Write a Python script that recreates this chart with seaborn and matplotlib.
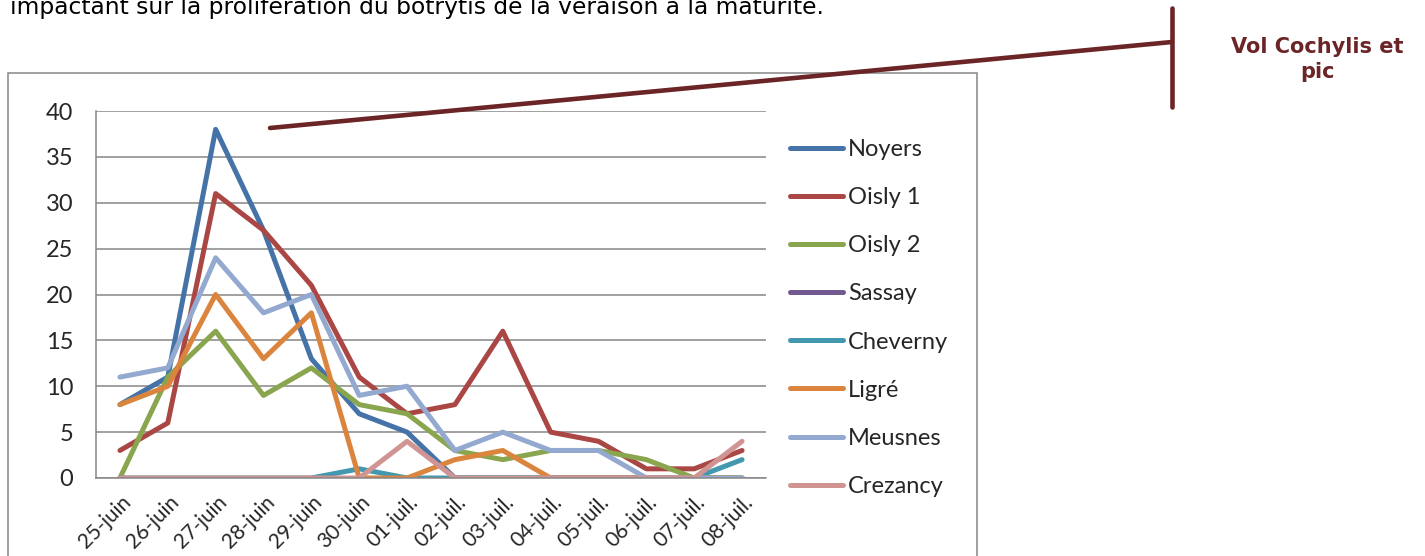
import numpy as np
import pandas as pd
import matplotlib
matplotlib.use("Agg")
import matplotlib.pyplot as plt
import matplotlib.transforms as mtransforms
import seaborn as sns
from matplotlib.lines import Line2D
from matplotlib.patches import Rectangle

# Data
dates = ['25-juin', '26-juin', '27-juin', '28-juin', '29-juin', '30-juin', '01-juil.',
         '02-juil.', '03-juil.', '04-juil.', '05-juil.', '06-juil.', '07-juil.', '08-juil.']
sites = ['Noyers', 'Oisly 1', 'Oisly 2', 'Sassay', 'Cheverny', 'Ligré', 'Meusnes', 'Crezancy']

noyers = [8, 11, 38, 27, 13, 7, 5, 0, 0, 0, 0, 0, 0, 0]
oisly1 = [3, 6, 31, 27, 21, 11, 7, 8, 16, 5, 4, 1, 1, 3]
oisly2 = [0, 11, 16, 9, 12, 8, 7, 3, 2, 3, 3, 2, 0, 0]
sassay = [0, 0, 0, 0, 0, 0, 0, 0, 0, 0, 0, 0, 0, 0]
cheverny = [0, 0, 0, 0, 0, 1, 0, 0, 0, 0, 0, 0, 0, 2]
ligre = [8, 10, 20, 13, 18, 0, 0, 2, 3, 0, 0, 0, 0, 0]
meusnes = [11, 12, 24, 18, 20, 9, 10, 3, 5, 3, 3, 0, 0, 0]
crezancy = [0, 0, 0, 0, 0, 0, 4, 0, 0, 0, 0, 0, 0, 4]

colors = ['#4572A7', '#AA4643', '#89A54E', '#71588F', '#4198AF', '#DB843D', '#93A9CF', '#D09493']

series = [noyers, oisly1, oisly2, sassay, cheverny, ligre, meusnes, crezancy]
rows = []
for name, vals in zip(sites, series):
    for i, v in enumerate(vals):
        rows.append({'pos': i, 'date': dates[i], 'site': name, 'val': v})
df = pd.DataFrame(rows)

sns.set_style("white")
plt.rcParams['font.family'] = ['Lato', 'DejaVu Sans']

W, H = 1425, 556
fs = 17
fig = plt.figure(figsize=(W / 100, H / 100), dpi=100)
ax = fig.add_axes([96 / W, 1 - 478 / H, 670 / W, 367 / H])

grid_c = '#868686'
sns.lineplot(data=df, x='pos', y='val', hue='site', hue_order=sites,
             palette=colors, linewidth=3.6, sort=False, ax=ax)

ax.set_xlim(-0.5, len(dates) - 0.5)
ax.set_ylim(0, 40)
ax.set_yticks(np.arange(0, 41, 5))
ax.yaxis.grid(True, color=grid_c, linewidth=1.1)
ax.set_axisbelow(True)
ax.set_xticks(np.arange(len(dates)))
ax.set_xticklabels(dates, rotation=45, ha='right', va='center', rotation_mode='anchor')
ax.set_xticks(np.arange(-0.5, len(dates)), minor=True)
ax.tick_params(axis='x', which='major', length=0, pad=15, labelsize=15)
ax.tick_params(axis='x', which='minor', length=5, width=1.1, color=grid_c, direction='out')
ax.tick_params(axis='y', length=6.5, width=1.1, color=grid_c, direction='out', labelsize=fs, pad=10)
shift = mtransforms.ScaledTranslation(8 / 100, 0, fig.dpi_scale_trans)
for lab in ax.get_xticklabels():
    lab.set_transform(lab.get_transform() + shift)
ax.set_xlabel('')
ax.set_ylabel('')
for s in ['top', 'right']:
    ax.spines[s].set_visible(False)
for s in ['left', 'bottom']:
    ax.spines[s].set_color(grid_c)
    ax.spines[s].set_linewidth(1.1)

handles, labels = ax.get_legend_handles_labels()
ax.legend(handles, labels, loc='upper left', bbox_to_anchor=(790 / W, 1 - 139 / H),
          bbox_transform=fig.transFigure, frameon=False, fontsize=fs,
          handlelength=2.25, handletextpad=0.22, labelspacing=1.15, borderpad=0,
          borderaxespad=0)

# chart frame
fig.patches.append(Rectangle((8 / W, -0.1), (977 - 8) / W, 1.1 - 73 / H,
                             transform=fig.transFigure, fill=False,
                             edgecolor=grid_c, linewidth=1.1))

# callout
dark = '#6B2526'
fig.lines.append(Line2D([270 / W, 1172 / W], [1 - 128 / H, 1 - 42 / H],
                        transform=fig.transFigure, color=dark, linewidth=3.3))
fig.lines.append(Line2D([1172 / W, 1172 / W], [1 - 8 / H, 1 - 107 / H],
                        transform=fig.transFigure, color=dark, linewidth=3.3))
fig.text(1317 / W, 1 - 53 / H, 'Vol Cochylis et', ha='center', va='baseline',
         fontsize=15, fontweight='bold', color=dark, family='DejaVu Sans')
fig.text(1317 / W, 1 - 78 / H, 'pic', ha='center', va='baseline',
         fontsize=15, fontweight='bold', color=dark, family='DejaVu Sans')

# cut-off paragraph text at top
fig.text(10 / W, 1 - 14 / H, 'impactant sur la prolifération du botrytis de la véraison à la maturité.',
         ha='left', va='baseline', fontsize=16.8, family='DejaVu Sans', color='black')

fig.savefig('out.png', dpi=100)
